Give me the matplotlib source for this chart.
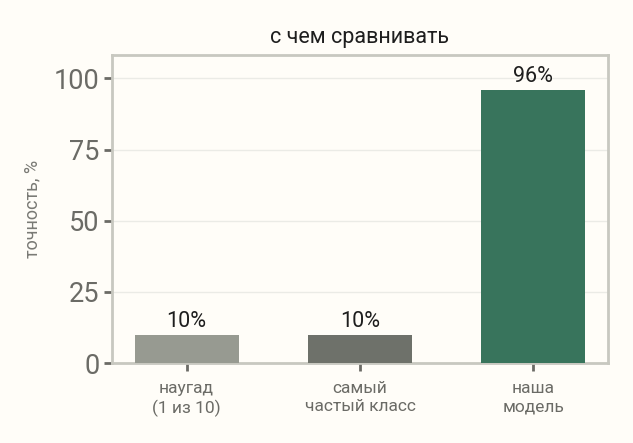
import matplotlib
matplotlib.use("Agg")
import matplotlib.pyplot as plt
from matplotlib import font_manager

categories = ["наугад\n(1 из 10)", "самый\nчастый класс", "наша\nмодель"]
values = [10, 10, 96]
labels = ["10%", "10%", "96%"]
colors = ["#979a91", "#6e716a", "#38745c"]
yticks = [0, 25, 50, 75, 100]

names = {f.name for f in font_manager.fontManager.ttflist}
fam = [f for f in ["Roboto", "DejaVu Sans"] if f in names]
plt.rcParams['font.family'] = fam + ["DejaVu Sans"]

bg = "#fffdf8"
fig = plt.figure(figsize=(6.33, 4.43), dpi=100, facecolor=bg)
ax = fig.add_axes([112/633, 80/443, 496/633, 308/443])
ax.set_facecolor(bg)

x = list(range(len(categories)))
bars = ax.bar(x, values, width=0.6, color=colors, zorder=3)
for xi, v, lab in zip(x, values, labels):
    ax.text(xi, v + 0.8, lab, ha="center", va="bottom", fontsize=15.5, color="#1e1e1e", zorder=4)

ax.set_ylim(0, 108.2)
ax.set_xlim(-0.43, 2.43)
ax.set_yticks(yticks)
ax.set_xticks(x)
ax.set_xticklabels(categories, fontsize=12.5, color="#6b6b66", linespacing=1.25)
ax.tick_params(axis="y", labelsize=19.5, labelcolor="#6b6b66", color="#6b6b66", length=6, width=2, pad=3)
ax.tick_params(axis="x", color="#6b6b66", length=6, width=2, pad=7)
ax.yaxis.grid(True, color="#ebebe6", linewidth=1, zorder=0)
ax.set_axisbelow(True)
for s in ax.spines.values():
    s.set_color("#c8c8c0")
    s.set_linewidth(2)
ax.set_ylabel("точность, %", fontsize=13, color="#7a7a75", labelpad=9)
ax.set_title("с чем сравнивать", fontsize=15.5, color="#1e1e1e", pad=9)

fig.savefig("out.png", dpi=100, facecolor=bg)
